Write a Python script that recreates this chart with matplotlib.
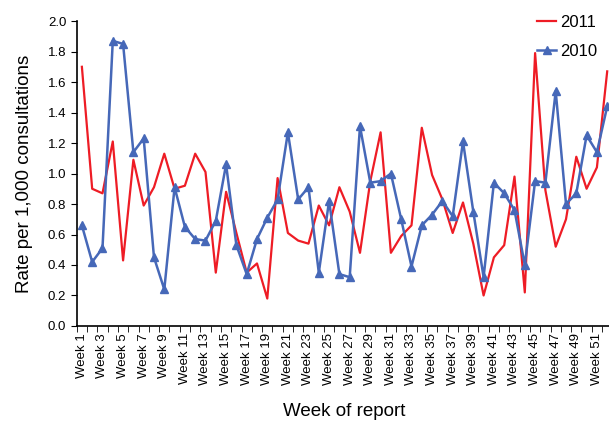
import matplotlib
matplotlib.use("Agg")
import matplotlib.pyplot as plt
import numpy as np

plt.rcParams['font.family'] = ['Liberation Sans', 'DejaVu Sans']

weeks = list(range(1, 53))
week_labels = ['Week %d' % w if w % 2 == 1 else '' for w in weeks]

rate_2011 = [1.70, 0.90, 0.87, 1.21, 0.43, 1.09, 0.79, 0.91, 1.13, 0.90,
             0.92, 1.13, 1.01, 0.35, 0.88, 0.61, 0.35, 0.41, 0.18, 0.97,
             0.61, 0.56, 0.54, 0.79, 0.66, 0.91, 0.75, 0.48, 0.95, 1.27,
             0.48, 0.59, 0.66, 1.30, 0.99, 0.83, 0.61, 0.81, 0.54, 0.20,
             0.45, 0.53, 0.98, 0.22, 1.79, 0.89, 0.52, 0.70, 1.11, 0.90,
             1.04, 1.67]
rate_2010 = [0.66, 0.42, 0.51, 1.87, 1.85, 1.14, 1.23, 0.45, 0.24, 0.91,
             0.65, 0.57, 0.56, 0.69, 1.06, 0.53, 0.34, 0.57, 0.71, 0.83,
             1.27, 0.83, 0.91, 0.35, 0.82, 0.34, 0.32, 1.31, 0.94, 0.95,
             1.00, 0.70, 0.39, 0.66, 0.73, 0.82, 0.72, 1.21, 0.75, 0.32,
             0.94, 0.87, 0.76, 0.40, 0.95, 0.94, 1.54, 0.80, 0.87, 1.25,
             1.14, 1.44]

red = '#EE1C25'
blue = '#4668B8'

fig = plt.figure(figsize=(6.09, 4.21), dpi=100)
ax = fig.add_axes([0.126, 0.2257, 0.8795, 0.7243])

ax.plot(weeks, rate_2011, color=red, lw=1.6, label='2011')
ax.plot(weeks, rate_2010, color=blue, lw=1.8, marker='^', markersize=5.5,
        label='2010')

ax.set_xlim(0.5, 52.5)
ax.set_ylim(0, 2.0)
ax.set_yticks(np.arange(0, 2.01, 0.2))
ax.set_yticklabels(['%.1f' % v for v in np.arange(0, 2.01, 0.2)], fontsize=9.5)

# labels at categories, tick marks between them
ax.set_xticks(weeks)
ax.set_xticklabels(week_labels, rotation=90, fontsize=9.5)
ax.tick_params(axis='x', which='major', length=0, pad=5)
ax.set_xticks(np.arange(0.5, 53, 1), minor=True)
ax.tick_params(axis='x', which='minor', length=4, direction='out')
ax.tick_params(axis='y', length=4, direction='out')

for s in ['top', 'right']:
    ax.spines[s].set_visible(False)
ax.spines['left'].set_linewidth(1.2)
ax.spines['bottom'].set_linewidth(1.2)

ax.set_ylabel('Rate per 1,000 consultations', fontsize=13.5, labelpad=11)
ax.set_xlabel('Week of report', fontsize=13.5, labelpad=13)

ax.legend(loc='upper right', bbox_to_anchor=(606 / 609, 1 - 7 / 421),
          bbox_transform=fig.transFigure, frameon=False, borderpad=0,
          fontsize=12, handlelength=1.15, handletextpad=0.25, labelspacing=0.8)

fig.savefig('out.png', dpi=100)
